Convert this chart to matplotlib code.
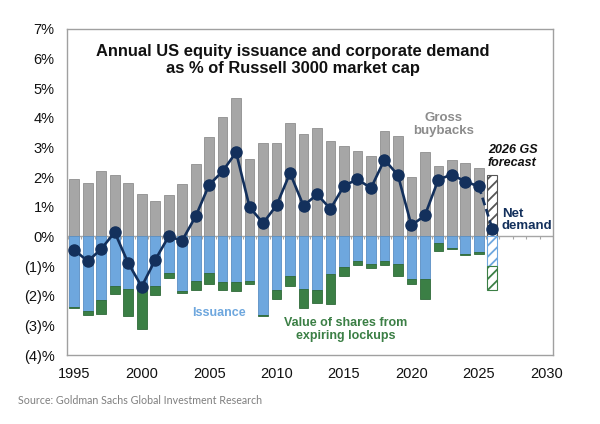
import matplotlib
matplotlib.use("Agg")
import matplotlib.pyplot as plt
import numpy as np

plt.rcParams['font.family'] = ['Liberation Sans', 'DejaVu Sans']
plt.rcParams['hatch.linewidth'] = 1.3

years = list(range(1995, 2026))
buybacks = [1.94, 1.80, 2.20, 2.09, 1.80, 1.43, 1.19, 1.41, 1.78, 2.45, 3.35, 4.02, 4.67,
            2.61, 3.14, 3.17, 3.83, 3.46, 3.66, 3.22, 3.06, 2.88, 2.71, 3.57, 3.38,
            1.99, 2.84, 2.39, 2.59, 2.47, 2.31]
issuance = [-2.39, -2.51, -2.16, -1.66, -1.78, -1.74, -1.66, -1.22, -1.85, -1.50, -1.22, -1.54, -1.53,
            -1.49, -2.65, -1.80, -1.33, -1.78, -1.80, -1.28, -1.04, -0.84, -0.92, -0.84, -0.93,
            -1.43, -1.43, -0.22, -0.40, -0.60, -0.52]
lockups = [-0.02, -0.15, -0.44, -0.27, -0.92, -1.38, -0.32, -0.19, -0.06, -0.30, -0.40, -0.28, -0.31,
           -0.12, -0.03, -0.30, -0.33, -0.63, -0.44, -0.99, -0.30, -0.11, -0.13, -0.14, -0.40,
           -0.17, -0.69, -0.28, -0.02, -0.02, -0.08]
net_demand = [-0.45, -0.84, -0.42, 0.14, -0.90, -1.69, -0.79, 0.00, -0.14, 0.68, 1.74, 2.20, 2.84,
              0.99, 0.45, 1.05, 2.14, 1.03, 1.42, 0.93, 1.71, 1.93, 1.63, 2.59, 2.07,
              0.37, 0.71, 1.92, 2.09, 1.85, 1.69]

fc_year = 2026
fc_buybacks = 2.06
fc_issuance = -1.01
fc_lockups = -0.79
fc_net = 0.26

yticks = [7, 6, 5, 4, 3, 2, 1, 0, -1, -2, -3, -4]
ytick_labels = ['7%', '6%', '5%', '4%', '3%', '2%', '1%', '0%', '(1)%', '(2)%', '(3)%', '(4)%']
xticks = [1995, 2000, 2005, 2010, 2015, 2020, 2025, 2030]

GRAY = '#A6A6A6'
GRAY_E = '#8E8E8E'
BLUE = '#6EA7DE'
BLUE_E = '#5A8FC4'
GREEN = '#3B7F45'
GREEN_E = '#2F6A38'
NAVY = '#13305C'

fig = plt.figure(figsize=(6.0, 4.24), dpi=100)
ax = fig.add_axes([67/600, 1-355/424, 486/600, 326/424])

w = 0.72
yrs = np.array(years)
iss = np.array(issuance)
lck = np.array(lockups)

# tick marks on zero line between categories
edges = np.arange(1994.5, 2031.0, 1.0)
ax.vlines(edges, -0.1, 0, color='#A6A6A6', lw=0.8, zorder=1.5)
ax.axhline(0, color='#A6A6A6', lw=1.0, zorder=1.6)

ax.bar(yrs, buybacks, width=w, color=GRAY, edgecolor=GRAY_E, lw=0.6, zorder=2)
ax.bar(yrs, iss, width=w, color=BLUE, edgecolor=BLUE_E, lw=0.6, zorder=2)
ax.bar(yrs, lck, width=w, bottom=iss, color=GREEN, edgecolor=GREEN_E, lw=0.6, zorder=2)

# forecast hatched bar
ax.bar([fc_year], [fc_buybacks], width=w, color='white', edgecolor='#555555', hatch='///', lw=0.8, zorder=2)
ax.bar([fc_year], [fc_issuance], width=w, color='white', edgecolor=BLUE, hatch='///', lw=0.8, zorder=2)
ax.bar([fc_year], [fc_lockups], bottom=[fc_issuance], width=w, color='white', edgecolor=GREEN,
       hatch='///', lw=0.8, zorder=2)

ax.plot(yrs, net_demand, color=NAVY, lw=1.9, marker='o', ms=8, zorder=4)
ax.plot([years[-1], fc_year], [net_demand[-1], fc_net], color=NAVY, lw=1.9, ls=(0, (3, 1.5)), zorder=3)
ax.plot([fc_year], [fc_net], color=NAVY, marker='o', ms=8, zorder=4)

ax.set_xlim(1994.46, 2030.5)
ax.set_ylim(-4, 7)
ax.set_yticks(yticks)
ax.set_yticklabels(ytick_labels)
ax.set_xticks(xticks)
ax.tick_params(axis='both', length=0, labelsize=10.5, colors='#111111')
ax.tick_params(axis='y', pad=9)
ax.tick_params(axis='x', pad=9)
for s in ax.spines.values():
    s.set_color('#A0A0A0')
    s.set_linewidth(1.0)

ax.text(0.465, 0.905, 'Annual US equity issuance and corporate demand\nas % of Russell 3000 market cap',
        transform=ax.transAxes, ha='center', va='center', fontsize=11.9, fontweight='bold',
        color='#111111', linespacing=1.2)
ax.text(0.774, 0.706, 'Gross\nbuybacks', transform=ax.transAxes, ha='center', va='center',
        fontsize=9.5, fontweight='bold', color='#8C8C8C', linespacing=1.1)
ax.text(0.866, 0.609, '2026 GS\nforecast', transform=ax.transAxes, ha='left', va='center',
        fontsize=9, fontweight='bold', fontstyle='italic', color='#111111', linespacing=1.1)
ax.text(0.895, 0.414, 'Net\ndemand', transform=ax.transAxes, ha='left', va='center',
        fontsize=9.5, fontweight='bold', color=NAVY, linespacing=1.1)
ax.text(0.312, 0.129, 'Issuance', transform=ax.transAxes, ha='center', va='center',
        fontsize=9, fontweight='bold', color=BLUE)
ax.text(0.574, 0.077, 'Value of shares from\nexpiring lockups', transform=ax.transAxes, ha='center',
        va='center', fontsize=9, fontweight='bold', color=GREEN, linespacing=1.1)

fig.text(18/600, 1-400/424, 'Source: Goldman Sachs Global Investment Research', ha='left', va='center',
         fontsize=7.7, color='#7F7F7F', family=['Lato', 'DejaVu Sans'])

fig.savefig('out.png', dpi=100)
